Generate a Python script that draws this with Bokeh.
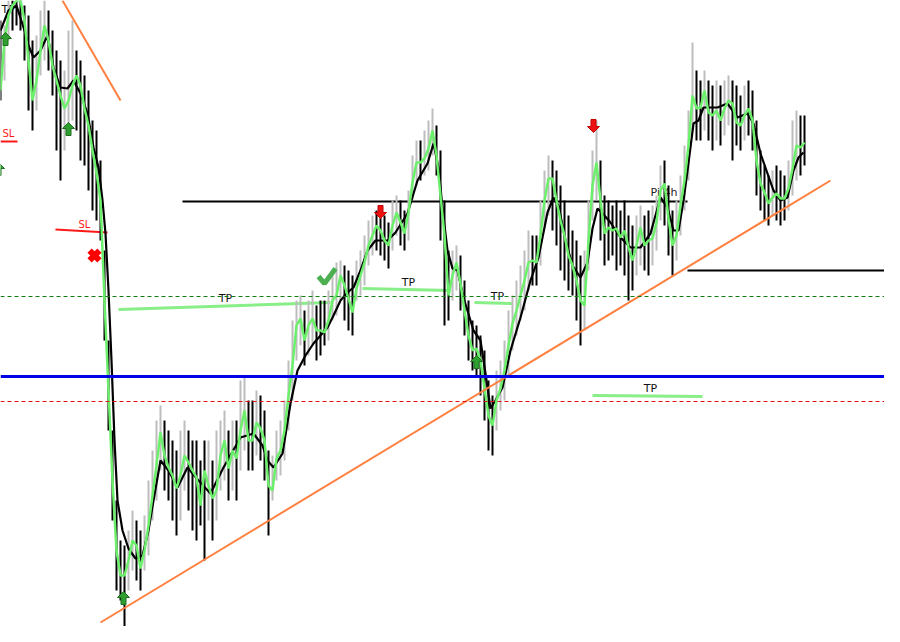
from bokeh.plotting import figure
from bokeh.models import Range1d, Span
from bokeh.embed import file_html
from bokeh.resources import INLINE
from bokeh.core.properties import value

# ---------------- data (price levels expressed in chart units, top = 0) ----------------
bar_x = list(range(0, 805, 4))
fast_ma = [
    90, 40, 15, 5, 0, 0, 20, 60, 100, 80,
    50, 25, 40, 65, 80, 95, 108, 100, 85, 75,
    85, 108, 125, 150, 172, 200, 300, 390, 480, 550,
    575, 575, 560, 540, 545, 568, 550, 525, 495, 465,
    432, 455, 467, 475, 488, 475, 455, 462, 470, 477,
    505, 470, 485, 498, 490, 455, 440, 468, 450, 458,
    430, 410, 440, 440, 422, 428, 440, 485, 490, 458,
    450, 430, 395, 365, 325, 318, 340, 325, 318, 330,
    330, 332, 320, 300, 295, 275, 285, 298, 312, 288,
    275, 262, 245, 235, 225, 230, 240, 245, 225, 212,
    222, 233, 212, 182, 162, 162, 158, 148, 130, 155,
    195, 235, 295, 275, 262, 283, 310, 335, 350, 348,
    360, 388, 415, 425, 400, 388, 370, 345, 323, 310,
    295, 280, 262, 260, 262, 235, 200, 178, 178, 200,
    220, 235, 255, 265, 280, 300, 305, 240, 185, 162,
    200, 233, 227, 230, 228, 237, 230, 247, 260, 245,
    227, 245, 240, 238, 222, 190, 183, 218, 245, 235,
    205, 180, 145, 95, 108, 107, 90, 112, 115, 110,
    120, 108, 100, 103, 122, 125, 115, 108, 120, 160,
    183, 192, 203, 197, 193, 198, 198, 188, 168, 145,
    147, 142,
]
bar_high = [
    20, 25, 0, 0, 0, 0, 5, 15, 40, 35,
    10, 0, 10, 30, 50, 60, 70, 30, 20, 50,
    60, 75, 90, 120, 130, 160, 250, 340, 430, 500,
    540, 545, 530, 510, 520, 530, 515, 480, 450, 420,
    405, 420, 430, 440, 450, 430, 420, 430, 440, 440,
    460, 440, 440, 460, 430, 420, 410, 430, 420, 420,
    380, 375, 400, 400, 390, 395, 410, 450, 455, 430,
    420, 400, 360, 320, 300, 295, 310, 300, 290, 305,
    300, 300, 290, 275, 262, 260, 265, 270, 275, 260,
    250, 235, 220, 215, 210, 210, 215, 222, 200, 195,
    200, 210, 190, 155, 140, 140, 130, 120, 108, 125,
    150, 200, 250, 250, 245, 255, 280, 300, 320, 325,
    335, 350, 380, 395, 370, 360, 340, 310, 295, 280,
    265, 250, 230, 235, 235, 200, 170, 155, 160, 170,
    185, 200, 215, 230, 240, 255, 250, 200, 150, 120,
    160, 195, 200, 205, 200, 210, 200, 215, 225, 215,
    205, 215, 210, 205, 195, 165, 160, 185, 210, 200,
    175, 145, 110, 42, 70, 80, 70, 80, 85, 80,
    85, 80, 75, 80, 85, 95, 85, 80, 90, 120,
    150, 165, 175, 170, 165, 170, 175, 160, 120, 110,
    115, 115,
]
bar_low = [
    100, 80, 40, 30, 25, 30, 60, 110, 130, 110,
    75, 60, 70, 95, 150, 180, 150, 130, 120, 130,
    160, 165, 190, 210, 220, 240, 340, 430, 520, 590,
    600, 630, 590, 570, 580, 590, 570, 555, 520, 500,
    470, 490, 500, 520, 535, 520, 490, 510, 530, 540,
    525, 560, 520, 540, 520, 490, 480, 500, 490, 500,
    470, 450, 470, 470, 455, 460, 480, 535, 500, 480,
    475, 460, 430, 400, 360, 345, 365, 355, 345, 360,
    355, 345, 340, 320, 315, 300, 320, 330, 335, 300,
    295, 285, 265, 255, 250, 255, 260, 268, 250, 235,
    245, 250, 240, 200, 185, 180, 175, 170, 155, 175,
    240, 325, 320, 300, 290, 310, 335, 360, 370, 375,
    395, 420, 450, 455, 430, 410, 400, 375, 350, 335,
    320, 310, 290, 285, 285, 265, 225, 215, 230, 245,
    270, 280, 290, 295, 320, 345, 330, 270, 220, 200,
    240, 265, 260, 255, 270, 265, 275, 300, 290, 275,
    265, 270, 275, 265, 250, 220, 225, 255, 275, 260,
    235, 210, 180, 130, 140, 140, 130, 140, 150, 140,
    145, 135, 125, 160, 145, 150, 140, 135, 150, 195,
    210, 220, 225, 215, 220, 225, 220, 210, 195, 180,
    175, 165,
]
slow_x = [
    0, 8, 16, 24, 28, 33, 40, 47, 53, 60,
    67, 73, 80, 87, 93, 98, 102, 105, 108, 111,
    114, 117, 122, 128, 135, 142, 148, 153, 160, 168,
    177, 187, 198, 210, 223, 240, 253, 262, 267, 273,
    282, 290, 297, 305, 313, 320, 327, 333, 340, 347,
    353, 360, 367, 375, 387, 395, 407, 417, 427, 433,
    438, 443, 447, 452, 457, 463, 473, 480, 485, 490,
    495, 502, 510, 520, 530, 538, 547, 553, 558, 565,
    572, 580, 587, 592, 597, 603, 610, 620, 630, 640,
    650, 660, 667, 673, 678, 683, 687, 693, 698, 703,
    710, 717, 727, 737, 747, 753, 760, 767, 773, 780,
    787, 793, 798, 803,
]
slow_ma = [
    30, 10, 5, 30, 45, 57, 50, 35, 67, 87,
    88, 80, 93, 113, 147, 167, 200, 233, 290, 360,
    440, 500, 530, 548, 558, 555, 530, 500, 460, 470,
    487, 467, 480, 493, 467, 437, 433, 445, 460, 467,
    453, 403, 370, 355, 343, 335, 327, 315, 300, 292,
    287, 270, 250, 240, 240, 232, 213, 180, 163, 143,
    167, 217, 250, 268, 270, 297, 330, 340, 373, 408,
    400, 387, 350, 317, 280, 257, 212, 197, 205, 240,
    265, 277, 262, 228, 208, 214, 222, 237, 247, 247,
    233, 197, 207, 230, 230, 200, 170, 123, 120, 107,
    107, 107, 103, 117, 113, 123, 153, 173, 190, 200,
    197, 170, 157, 152,
]

# trend lines (start/end points)
trend_x0 = [62, 100]
trend_y0 = [0, 622]
trend_x1 = [120, 830]
trend_y1 = [100, 180]

# horizontal levels
pivot_level = 201
pivot_from, pivot_to = 182, 687
support_level = 270
support_from, support_to = 687, 900
blue_level = 376
green_dash_level = 296
red_dash_level = 401

# take-profit segments and labels
tp_x0 = [118, 362, 474, 592]
tp_y0 = [309, 288, 302, 395]
tp_x1 = [330, 450, 512, 702]
tp_y1 = [302, 290, 303, 396]
tp_label_x = [225, 408, 497, 650]
tp_label_y = [298, 282, 296, 388]
edge_tp_x, edge_tp_y = 1, 9

# stop-loss segments and labels
sl_x0 = [0, 55]
sl_y0 = [141, 229]
sl_x1 = [17, 107]
sl_y1 = [141, 232]
sl_label_x = [2, 78]
sl_label_y = [133, 224]

# signals
buy_x = [5, 68, 123, 476, -2]
buy_y = [32, 122, 591, 355, 162]
sell_x = [380, 593]
sell_y = [218, 132]
stop_x = [94]
stop_y = [255]
win_x = [327]
win_y = [277]

# ---------------- figure ----------------
p = figure(width=884, height=626, x_range=Range1d(0, 884), y_range=Range1d(626, 0),
           x_axis_type=None, y_axis_type=None, output_backend="svg",
           toolbar_location=None, min_border=0)
p.grid.visible = False
p.outline_line_color = None
p.background_fill_color = "white"
p.border_fill_color = "white"

font = value("DejaVu Sans")

# dashed levels
p.add_layout(Span(location=green_dash_level, dimension="width", line_color="#118011",
                  line_dash="4 3", line_width=1))
p.add_layout(Span(location=red_dash_level, dimension="width", line_color="#e01010",
                  line_dash="4 3", line_width=1))

# pivot levels
p.segment(x0=[pivot_from, support_from], y0=[pivot_level, support_level],
          x1=[pivot_to, support_to], y1=[pivot_level, support_level],
          line_color="black", line_width=2)
p.text(x=[650], y=[198], text=["Pi 4h"], text_font=font, text_font_size="11px",
       text_color="#222222", text_baseline="bottom", text_align="left")

# TP lines
p.segment(x0=tp_x0, y0=tp_y0, x1=tp_x1, y1=tp_y1, line_color="#88ee88", line_width=3)
p.text(x=tp_label_x, y=tp_label_y, text=["TP"] * len(tp_label_x), text_font=font,
       text_font_size="11px", text_color="#111111", text_align="center",
       text_baseline="middle")
p.text(x=[edge_tp_x], y=[edge_tp_y], text=["TP"], text_font=font,
       text_font_size="11px", text_color="#111111", text_align="left",
       text_baseline="middle")

# SL lines
p.segment(x0=sl_x0, y0=sl_y0, x1=sl_x1, y1=sl_y1, line_color="#ff1a1a", line_width=2)
p.text(x=sl_label_x, y=sl_label_y, text=["SL"] * len(sl_label_x), text_font=font,
       text_font_size="10px", text_color="#ff1a1a", text_align="left",
       text_baseline="middle")

# price bars (colour from direction of the bar midpoint)
mid = [(h + l) / 2 for h, l in zip(bar_high, bar_low)]
colors = ["#bdbdbd" if i > 0 and mid[i] < mid[i - 1] - 6 else "black"
          for i in range(len(mid))]
p.segment(x0=bar_x, y0=bar_high, x1=bar_x, y1=bar_low, line_color=colors, line_width=2)

# moving averages
p.line(slow_x, slow_ma, line_color="black", line_width=2.2)
p.line(bar_x, fast_ma, line_color="#6cf06c", line_width=2.5)

# blue level
p.add_layout(Span(location=blue_level, dimension="width", line_color="#0000e6", line_width=3))

# orange trend lines
p.segment(x0=trend_x0, y0=trend_y0, x1=trend_x1, y1=trend_y1, line_color="#ff8040", line_width=2)

# arrows
up_shape = [(0, 0), (6, 6), (2.5, 6), (2.5, 13), (-2.5, 13), (-2.5, 6), (-6, 6)]
bx = [[x + dx for dx, dy in up_shape] for x in buy_x]
by = [[y + dy for dx, dy in up_shape] for y in buy_y]
p.patches(bx, by, fill_color="#2f9f2f", line_color="#1c6e1c", line_width=1)
sx = [[x + dx for dx, dy in up_shape] for x in sell_x]
sy = [[y - dy for dx, dy in up_shape] for y in sell_y]
p.patches(sx, sy, fill_color="#ee1111", line_color="#c00000", line_width=1)

# stop hit
p.scatter(x=stop_x, y=stop_y, marker="x", size=14, line_color="#ff0000", line_width=6)

# target hit (check mark)
check_shape = [(-9, -1), (-3, 6), (8, -9)]
for cx, cy in zip(win_x, win_y):
    p.line([cx + dx for dx, dy in check_shape], [cy + dy for dx, dy in check_shape],
           line_color="#4caf50", line_width=5)

open("out.html", "w").write(file_html(p, INLINE))
